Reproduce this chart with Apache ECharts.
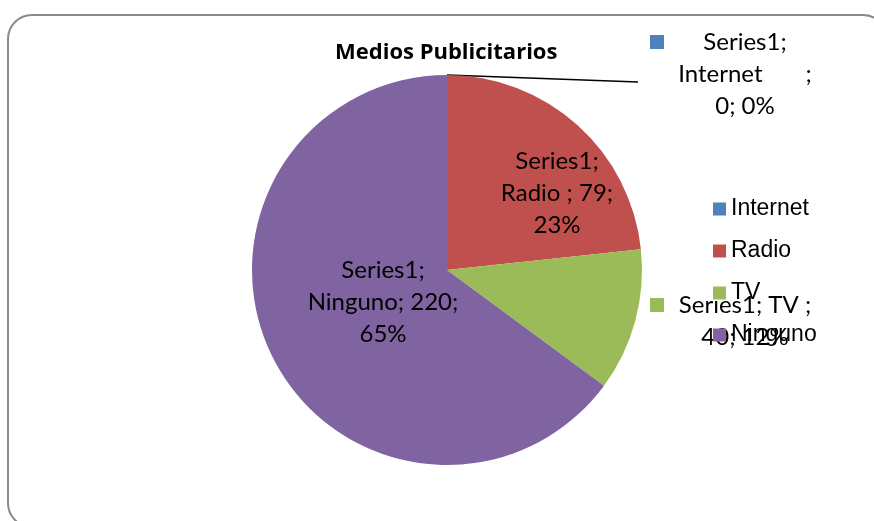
<!DOCTYPE html>
<html>
<head>
<meta charset="utf-8">
<script src="https://cdn.jsdelivr.net/npm/echarts@6/dist/echarts.min.js"></script>
<style>
  html, body { margin: 0; padding: 0; background: #fff; }
  #chart { width: 874px; height: 521px; }
</style>
</head>
<body>
<div id="chart"></div>
<script>
// Chart content
const titleText = 'Medios Publicitarios';
const seriesName = 'Series1';
const categories = ['Internet ', 'Radio ', 'TV ', 'Ninguno'];
const values = [0, 79, 40, 220];
const colors = ['#4F81BD', '#C0504D', '#9BBB59', '#8064A2'];

// Placement and wrapping of each data label (key = show the colour key beside it)
const labelSpots = [
  { x: 745, y: 74, key: true, wrap: 'three-padded' },
  { x: 557, y: 193, key: false, wrap: 'three' },
  { x: 745, y: 321, key: true, wrap: 'two' },
  { x: 383, y: 302, key: false, wrap: 'three' }
];

function labelText(p) {
  const spot = labelSpots[p.dataIndex];
  let lines;
  if (spot.wrap === 'two') {
    lines = [p.seriesName + '; ' + p.name.trim() + ' ;', p.value + '; ' + p.percent + '%'];
  } else if (spot.wrap === 'three-padded') {
    lines = [p.seriesName + ';', p.name.trim() + '       ;', p.value + '; ' + p.percent + '%'];
  } else {
    lines = [p.seriesName + ';', p.name + '; ' + p.value + ';', p.percent + '%'];
  }
  if (spot.key) {
    lines[0] = '{k|}{t|' + lines[0] + '}{s|}';
  }
  return lines.join('\n');
}

const chart = echarts.init(document.getElementById('chart'), null, { renderer: 'canvas' });

const pieData = categories.map(function (name, i) {
  const spot = labelSpots[i];
  const item = {
    name: name,
    value: values[i],
    itemStyle: { color: colors[i] },
    label: { position: spot.key ? 'outside' : 'inside' },
    labelLine: { show: i === 0 }
  };
  if (spot.key) {
    item.label.width = 190;
    item.label.rich = {
      k: { width: 14, height: 14, backgroundColor: colors[i], align: 'left' },
      s: { width: 14, align: 'right' },
      t: { align: 'center', fontFamily: 'Lato', fontSize: 24, color: '#000' }
    };
  }
  return item;
});

chart.setOption({
  animation: false,
  backgroundColor: '#ffffff',
  title: {
    text: titleText,
    left: 335,
    top: 42,
    padding: 0,
    textStyle: { fontFamily: 'Open Sans', fontWeight: 'bold', fontSize: 22, color: '#000' }
  },
  legend: {
    orient: 'vertical',
    left: 708,
    top: 192,
    icon: 'rect',
    itemWidth: 13,
    itemHeight: 13,
    itemGap: 18,
    selectedMode: false,
    data: categories,
    textStyle: { fontFamily: 'Liberation Sans', fontSize: 23, color: '#000', lineHeight: 24 }
  },
  graphic: [{
    type: 'rect',
    silent: true,
    shape: { x: 8, y: 15, width: 879, height: 512, r: 24 },
    style: { fill: 'none', stroke: '#8a8a8a', lineWidth: 2 }
  }],
  series: [{
    type: 'pie',
    name: seriesName,
    center: [447, 270],
    radius: 195,
    startAngle: 90,
    clockwise: true,
    percentPrecision: 0,
    avoidLabelOverlap: false,
    itemStyle: { borderWidth: 0 },
    emphasis: { disabled: true },
    label: {
      show: true,
      formatter: labelText,
      fontFamily: 'Lato',
      fontSize: 24,
      color: '#000',
      lineHeight: 32,
      align: 'center'
    },
    labelLine: {
      show: false,
      length: 10,
      length2: 10,
      lineStyle: { color: '#000', width: 1.3 }
    },
    labelLayout: function (params) {
      const spot = labelSpots[params.dataIndex];
      const out = { x: spot.x, y: spot.y, align: 'center', verticalAlign: 'middle' };
      if (params.dataIndex === 0 && params.labelLinePoints) {
        out.labelLinePoints = [params.labelLinePoints[0], [638, 82]];
      }
      return out;
    },
    data: pieData
  }]
});
</script>
</body>
</html>
